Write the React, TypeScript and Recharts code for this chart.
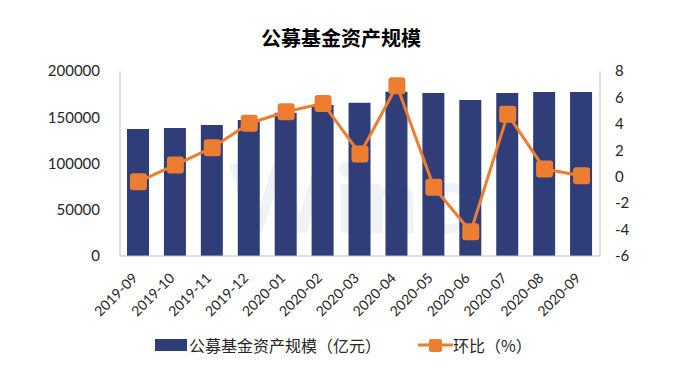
import React from 'react';
import {
  ComposedChart, Bar, Line, XAxis, YAxis
} from 'recharts';

// 月份
const months = [
  '2019-09', '2019-10', '2019-11', '2019-12', '2020-01', '2020-02', '2020-03',
  '2020-04', '2020-05', '2020-06', '2020-07', '2020-08', '2020-09',
];

// 公募基金资产规模（亿元）
const scale = [
  137300, 138400, 141600, 147000, 155000, 163200, 165700,
  177600, 176200, 168600, 176200, 177300, 177300,
];

// 环比（%）
const mom = [
  -0.38, 0.89, 2.2, 4.04, 4.92, 5.55, 1.72,
  6.89, -0.8, -4.16, 4.72, 0.58, 0.08,
];

const leftTicks = [0, 50000, 100000, 150000, 200000];
const rightTicks = [-6, -4, -2, 0, 2, 4, 6, 8];

const BAR_COLOR = '#2F3E78';
const LINE_COLOR = '#ED7D31';
const TEXT_COLOR = '#262626';
const AXIS_COLOR = '#BFBFBF';
const NUM_FONT = 'Lato, "Noto Sans", sans-serif';
const CJK_FONT = '"Noto Sans CJK SC", sans-serif';

const data = months.map((m, i) => ({ month: m, scale: scale[i], mom: mom[i] }));

const SquareDot = (props: any) => {
  const { cx, cy } = props;
  if (cx == null || cy == null) return null;
  return <rect x={cx - 8.5} y={cy - 8.5} width={17} height={17} rx={3} fill={LINE_COLOR} />;
};

const XTick = (props: any) => {
  const { x, y, payload } = props;
  return (
    <g transform={`translate(${x},${y + 15})`}>
      <text
        x={0}
        y={0}
        textAnchor="end"
        transform="rotate(-45)"
        fill={TEXT_COLOR}
        fontSize={14}
        fontFamily={NUM_FONT}
      >
        {payload.value}
      </text>
    </g>
  );
};

const App: React.FC = () => {
  return (
    <div style={{ position: 'absolute', left: 0, top: 0, width: 673, height: 373, background: '#fff' }}>
      {/* 水印 */}
      <div
        style={{
          position: 'absolute', left: 228, top: 138, fontSize: 96, fontWeight: 700,
          fontFamily: NUM_FONT, color: '#F1F2F6', letterSpacing: 6,
        }}
      >
        Wind
      </div>
      <div
        style={{
          position: 'absolute', left: 0, top: 23, width: 682, textAlign: 'center',
          fontFamily: CJK_FONT, fontWeight: 700, fontSize: 20, color: '#000',
        }}
      >
        公募基金资产规模
      </div>
      <div style={{ position: 'absolute', left: 0, top: 0 }}>
        <ComposedChart
          width={673}
          height={373}
          data={data}
          margin={{ top: 71, right: 0, bottom: 57, left: 60 }}
        >
          <XAxis
            dataKey="month"
            interval={0}
            tickLine={false}
            stroke={AXIS_COLOR}
            tick={<XTick />}
            height={60}
          />
          <YAxis
            yAxisId="left"
            domain={[0, 200000]}
            ticks={leftTicks}
            width={60}
            tickLine={false}
            stroke={AXIS_COLOR}
            tickSize={6}
            tickMargin={14}
            tick={{ fill: TEXT_COLOR, fontSize: 15, fontFamily: NUM_FONT }}
          />
          <YAxis
            yAxisId="right"
            orientation="right"
            domain={[-6, 8]}
            ticks={rightTicks}
            width={73}
            tickLine={false}
            stroke={AXIS_COLOR}
            tickSize={6}
            tickMargin={9}
            tick={{ fill: TEXT_COLOR, fontSize: 15, fontFamily: NUM_FONT, textAnchor: 'start' }}
          />
          <Bar yAxisId="left" dataKey="scale" fill={BAR_COLOR} barSize={22} isAnimationActive={false} />
          <Line
            yAxisId="right"
            dataKey="mom"
            stroke={LINE_COLOR}
            strokeWidth={3}
            dot={<SquareDot />}
            activeDot={false}
            isAnimationActive={false}
          />
        </ComposedChart>
      </div>
      {/* 图例 */}
      <div
        style={{
          position: 'absolute', left: 155, top: 333, display: 'flex', alignItems: 'center',
          fontFamily: CJK_FONT, fontSize: 16, color: TEXT_COLOR,
        }}
      >
        <span style={{ display: 'inline-block', width: 32, height: 12, background: BAR_COLOR, marginRight: 2 }} />
        <span>公募基金资产规模（亿元）</span>
        <svg width={35} height={20} style={{ marginLeft: 37 }}>
          <line x1={0} y1={10} x2={35} y2={10} stroke={LINE_COLOR} strokeWidth={3} />
          <rect x={11} y={4} width={13} height={13} rx={2} fill={LINE_COLOR} />
        </svg>
        <span>环比（%）</span>
      </div>
    </div>
  );
};

export default App;
